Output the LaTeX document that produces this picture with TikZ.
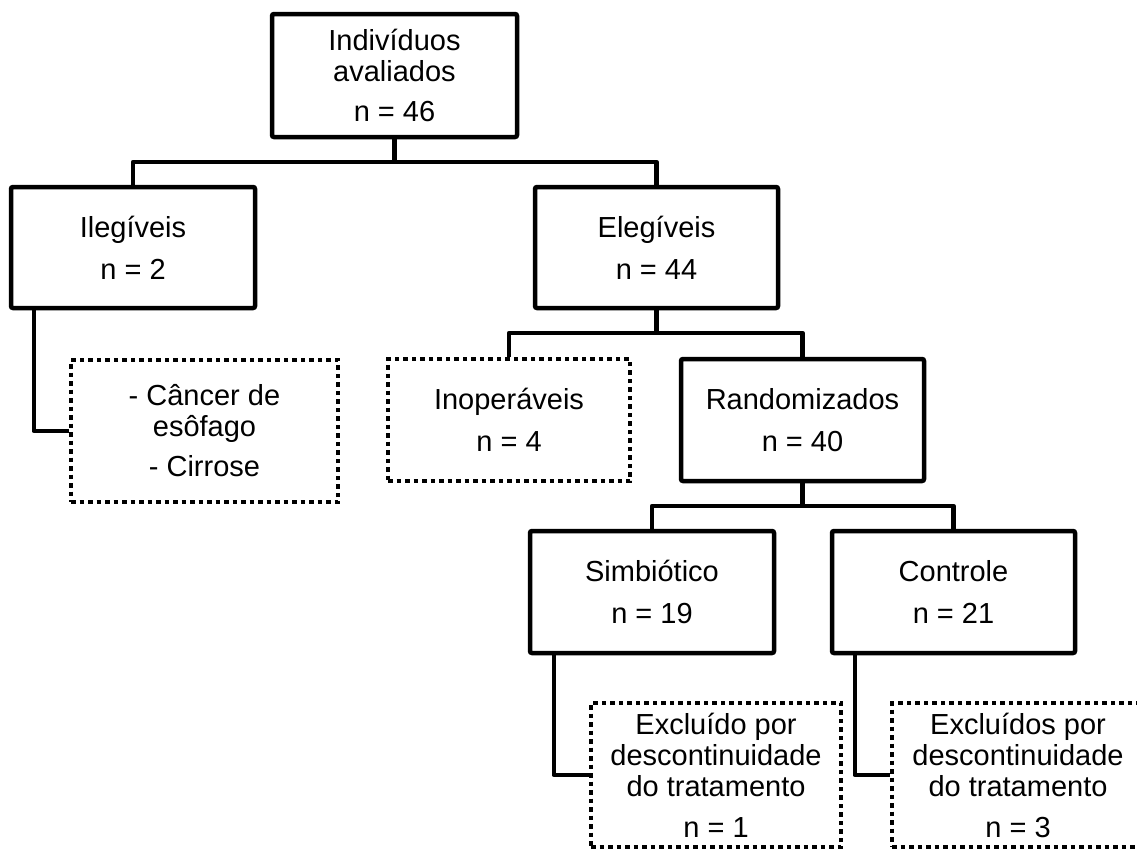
\documentclass[tikz,border=0pt]{standalone}
\usepackage{fontspec}
\setmainfont{Liberation Sans}
\begin{document}
\begin{tikzpicture}[x=1pt,y=-1pt,
  base/.style={line width=4.5pt, align=center, inner sep=0pt, anchor=center,
    font=\fontsize{29}{31}\selectfont},
  solidbox/.style={base, draw, rounded corners=2pt},
  dotbox/.style={base, draw, dash pattern=on 4.5pt off 4pt},
  link/.style={line width=4.5pt, line join=round}]
\useasboundingbox (0,0) rectangle (1137,849);
\clip (0,0) rectangle (1137,849);
\fill[white] (0,0) rectangle (1137,849);

\node[solidbox, minimum width=245pt, minimum height=123pt] (top) at (394.5,75.5)
  {Indivíduos\\avaliados\\[9pt]n = 46};
\node[solidbox, minimum width=244pt, minimum height=121pt] (ileg) at (133,247.5)
  {Ilegíveis\\[11pt]n = 2};
\node[solidbox, minimum width=243pt, minimum height=121pt] (eleg) at (656.5,247.5)
  {Elegíveis\\[11pt]n = 44};
\node[dotbox, minimum width=267pt, minimum height=142pt] (cancer) at (204.5,431)
  {- Câncer de\\esôfago\\[9pt]- Cirrose};
\node[dotbox, minimum width=242pt, minimum height=122pt] (inop) at (509,420)
  {Inoperáveis\\[11pt]n = 4};
\node[solidbox, minimum width=243pt, minimum height=122pt] (rand) at (802.5,420)
  {Randomizados\\[11pt]n = 40};
\node[solidbox, minimum width=244pt, minimum height=122pt] (simb) at (652,592)
  {Simbiótico\\[11pt]n = 19};
\node[solidbox, minimum width=243pt, minimum height=122pt] (ctrl) at (953.5,592)
  {Controle\\[11pt]n = 21};
\node[dotbox, minimum width=250pt, minimum height=144pt] (exc1) at (716,775)
  {Excluído por\\descontinuidade\\do tratamento\\[10pt]n = 1};
\node[dotbox, minimum width=252pt, minimum height=144pt] (exc2) at (1018,775)
  {Excluídos por\\descontinuidade\\do tratamento\\[10pt]n = 3};

\coordinate (j1) at (394.5,162);
\coordinate (j2) at (656.5,333);
\coordinate (j3) at (802.5,506);
\draw[link] (top.south) -- (j1);
\draw[link] (ileg.north) |- (j1) -| (eleg.north);
\draw[link] (eleg.south) -- (j2);
\draw[link] (inop.north) |- (j2) -| (rand.north);
\draw[link] (rand.south) -- (j3);
\draw[link] (simb.north) |- (j3) -| (ctrl.north);
\draw[link] ([xshift=25pt]ileg.south west) |- (cancer.west);
\draw[link] ([xshift=26pt]simb.south west) |- (exc1.west);
\draw[link] ([xshift=25pt]ctrl.south west) |- (exc2.west);
\end{tikzpicture}
\end{document}
